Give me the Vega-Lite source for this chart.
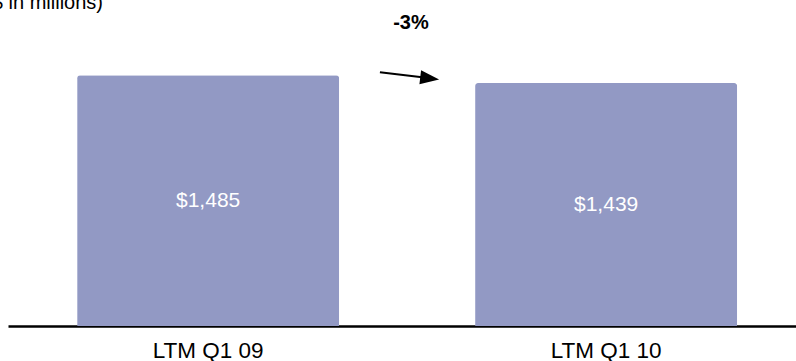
{
  "$schema": "https://vega.github.io/schema/vega-lite/v6.json",
  "width": 788,
  "height": 326,
  "autosize": {"type": "none"},
  "padding": {"left": 8, "top": 0, "right": 0, "bottom": 35},
  "config": {
    "view": {"stroke": null},
    "font": "Liberation Sans"
  },
  "datasets": {
    "revenue": [
      {"period": "LTM Q1 09", "value": 1485},
      {"period": "LTM Q1 10", "value": 1439}
    ],
    "notes": [
      {"label": "($ in millions)", "pos": -0.2638, "level": 1875, "kind": "unit"},
      {"label": "-3%", "pos": 0.51, "level": 1758, "kind": "change"}
    ],
    "arrow": [
      {"pos": 0.432, "level": 1503, "pos2": 0.538, "level2": 1473, "headPos": 0.557, "headLevel": 1467}
    ]
  },
  "layer": [
    {
      "data": {"name": "revenue"},
      "encoding": {
        "x": {
          "field": "period",
          "type": "nominal",
          "sort": null,
          "scale": {"type": "band", "paddingInner": 0.3417, "paddingOuter": 0.1608, "align": 0.54},
          "axis": {
            "title": null,
            "ticks": false,
            "domainColor": "#000000",
            "domainWidth": 2.5,
            "labelAngle": 0,
            "labelFont": "Liberation Sans",
            "labelFontSize": 22.5,
            "labelColor": "#000000",
            "labelBaseline": "alphabetic",
            "labelPadding": 31
          }
        }
      },
      "layer": [
        {
          "mark": {"type": "bar", "color": "#9299C4", "cornerRadiusTopLeft": 3, "cornerRadiusTopRight": 3},
          "encoding": {
            "y": {
              "field": "value",
              "type": "quantitative",
              "scale": {"domain": [0, 1931], "nice": false, "zero": true},
              "axis": null
            }
          }
        },
        {
          "transform": [{"calculate": "datum.value / 2", "as": "mid"}],
          "mark": {"type": "text", "color": "#FFFFFF", "fontSize": 21, "baseline": "middle", "align": "center"},
          "encoding": {
            "y": {"field": "mid", "type": "quantitative"},
            "text": {"field": "value", "type": "quantitative", "format": "$,.0f"}
          }
        }
      ]
    },
    {
      "encoding": {
        "x": {
          "field": "pos",
          "type": "quantitative",
          "scale": {"domain": [-0.5025, 1.4774], "nice": false, "zero": false},
          "axis": null
        },
        "y": {"field": "level", "type": "quantitative"}
      },
      "layer": [
        {
          "data": {"name": "arrow"},
          "mark": {"type": "rule", "color": "#000000", "strokeWidth": 2},
          "encoding": {
            "x2": {"field": "pos2"},
            "y2": {"field": "level2"}
          }
        },
        {
          "data": {"name": "arrow"},
          "mark": {
            "type": "point",
            "shape": "M-1,-0.74L1,0L-1,0.74Z",
            "filled": true,
            "color": "#000000",
            "opacity": 1,
            "size": 361,
            "angle": 7
          },
          "encoding": {
            "x": {"field": "headPos", "type": "quantitative"},
            "y": {"field": "headLevel", "type": "quantitative"}
          }
        },
        {
          "data": {"name": "notes"},
          "transform": [{"filter": "datum.kind === 'unit'"}],
          "mark": {"type": "text", "color": "#000000", "fontSize": 20, "align": "right", "baseline": "alphabetic"},
          "encoding": {
            "text": {"field": "label"}
          }
        },
        {
          "data": {"name": "notes"},
          "transform": [{"filter": "datum.kind === 'change'"}],
          "mark": {"type": "text", "color": "#000000", "fontSize": 20, "fontWeight": "bold", "align": "center", "baseline": "alphabetic"},
          "encoding": {
            "text": {"field": "label"}
          }
        }
      ]
    }
  ],
  "resolve": {"scale": {"x": "independent"}}
}
